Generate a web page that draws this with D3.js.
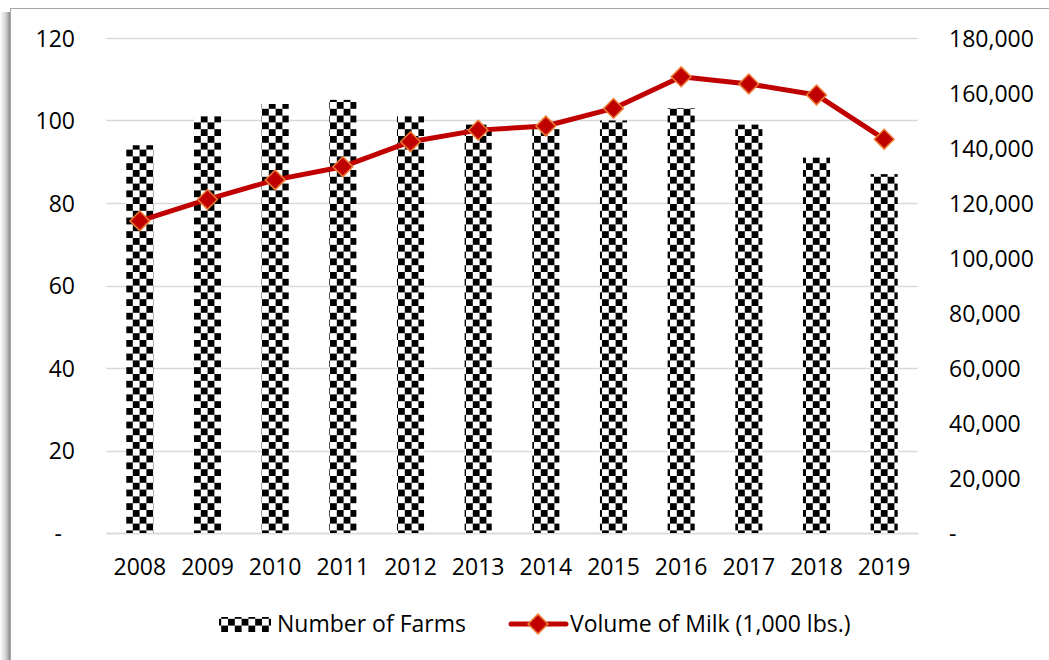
<!DOCTYPE html>
<html><head><meta charset="utf-8">
<script src="https://cdn.jsdelivr.net/npm/d3@7"></script>
<style>
html,body{margin:0;padding:0;background:#fff;}
svg{display:block;}
text{font-family:"Open Sans", Lato, sans-serif;fill:#000;}
</style></head>
<body>
<script>
const years = ["2008","2009","2010","2011","2012","2013","2014","2015","2016","2017","2018","2019"];
const farms = [94,101,104,105,101,99,98,100,103,99,91,87];
const milk = [113500,121300,128400,133200,142300,146500,148000,154400,165900,163300,159300,143200];
const leftTicks = [0,20,40,60,80,100,120];
const rightTicks = [0,20000,40000,60000,80000,100000,120000,140000,160000,180000];
const seriesNames = ["Number of Farms","Volume of Milk (1,000 lbs.)"];

const W = 1049, H = 660;
const FONT = "Open Sans";
const FS = 23;
const svg = d3.select("body").append("svg").attr("width", W).attr("height", H);
const defs = svg.append("defs");

// left shadow gradient
const g1 = defs.append("linearGradient").attr("id","shadow").attr("x1","0").attr("x2","1");
g1.append("stop").attr("offset","0").attr("stop-color","#fff");
g1.append("stop").attr("offset","0.6").attr("stop-color","#d0d0d0");
g1.append("stop").attr("offset","1").attr("stop-color","#8c8c8c");
svg.append("rect").attr("x",0).attr("y",12).attr("width",10).attr("height",H-12).attr("fill","url(#shadow)");
svg.append("rect").attr("x",10.5).attr("y",8.5).attr("width",W+10).attr("height",H+10)
  .attr("fill","#fff").attr("stroke","#a6a6a6").attr("stroke-width",1);

// checker pattern
const cs = 6.8;
const pat = defs.append("pattern").attr("id","checker").attr("patternUnits","userSpaceOnUse")
  .attr("width",cs*2).attr("height",cs*2).attr("x",126).attr("y",0);
pat.append("rect").attr("width",cs*2).attr("height",cs*2).attr("fill","#fff");
pat.append("rect").attr("width",cs).attr("height",cs).attr("fill","#000");
pat.append("rect").attr("x",cs).attr("y",cs).attr("width",cs).attr("height",cs).attr("fill","#000");

const plot = {left:106, right:918, top:38, bottom:533};
const x = d3.scaleBand().domain(years).range([plot.left, plot.right]).paddingInner(0.6).paddingOuter(0.3);
const yL = d3.scaleLinear().domain([0,120]).range([plot.bottom, plot.top]);
const yR = d3.scaleLinear().domain([0,180000]).range([plot.bottom, plot.top]);

// gridlines
svg.append("g").selectAll("line").data(leftTicks).join("line")
  .attr("x1",plot.left).attr("x2",plot.right)
  .attr("y1",d=>Math.round(yL(d))+0.5).attr("y2",d=>Math.round(yL(d))+0.5)
  .attr("stroke","#d9d9d9").attr("stroke-width",1.5);

// left axis
const fmtL = d => d===0 ? "-" : String(d);
const axL = d3.axisLeft(yL).tickValues(leftTicks).tickFormat(fmtL).tickSize(0);
const gL = svg.append("g").attr("transform","translate(75,0)").call(axL);
gL.select(".domain").remove();
gL.selectAll("text").attr("font-size",FS).attr("font-family",FONT).attr("fill","#000").attr("dy","0.36em")
  .attr("x", d=> d===0 ? -13 : 0);

// right axis
const fmtR = d => d===0 ? "-" : d3.format(",")(d);
const axR = d3.axisRight(yR).tickValues(rightTicks).tickFormat(fmtR).tickSize(0);
const gR = svg.append("g").attr("transform","translate(949,0)").call(axR);
gR.select(".domain").remove();
gR.selectAll("text").attr("font-size",FS).attr("font-family",FONT).attr("fill","#000").attr("x",0).attr("dy","0.36em");

// x axis
const axX = d3.axisBottom(x).tickSize(0);
const gX = svg.append("g").attr("transform",`translate(0,${plot.bottom})`).call(axX);
gX.select(".domain").attr("stroke","#d9d9d9").attr("stroke-width",1.5);
gX.selectAll("text").attr("font-size",FS).attr("font-family",FONT).attr("fill","#000").attr("y",26).attr("dy","0.71em");

// bars
svg.append("g").selectAll("rect").data(years).join("rect")
  .attr("x",d=>x(d)).attr("width",x.bandwidth())
  .attr("y",(d,i)=>yL(farms[i])).attr("height",(d,i)=>yL(0)-yL(farms[i]))
  .attr("fill","url(#checker)");

// line
const cx = d => x(d) + x.bandwidth()/2;
const line = d3.line().x((d,i)=>cx(years[i])).y(d=>yR(d));
svg.append("path").datum(milk).attr("d",line).attr("fill","none")
  .attr("stroke","#c00000").attr("stroke-width",5).attr("stroke-linejoin","round").attr("stroke-linecap","round");
const diamond = d3.symbol().type(d3.symbolDiamond2).size(250);
svg.append("g").selectAll("path").data(milk).join("path")
  .attr("d",diamond)
  .attr("transform",(d,i)=>`translate(${cx(years[i])},${yR(d)})`)
  .attr("fill","#c00000").attr("stroke","#ed7d31").attr("stroke-width",1.5);

// legend
const lg = svg.append("g");
lg.append("rect").attr("x",219).attr("y",617).attr("width",52).attr("height",15).attr("fill","url(#checker)");
lg.append("text").attr("x",277).attr("y",632).attr("font-size",FS).attr("font-family",FONT).text(seriesNames[0]);
lg.append("line").attr("x1",511).attr("x2",566).attr("y1",624).attr("y2",624)
  .attr("stroke","#c00000").attr("stroke-width",5).attr("stroke-linecap","round");
lg.append("path").attr("d",diamond).attr("transform","translate(538,624)")
  .attr("fill","#c00000").attr("stroke","#ed7d31").attr("stroke-width",1.5);
lg.append("text").attr("x",570).attr("y",632).attr("font-size",FS).attr("font-family",FONT).text(seriesNames[1]);
</script>
</body></html>
